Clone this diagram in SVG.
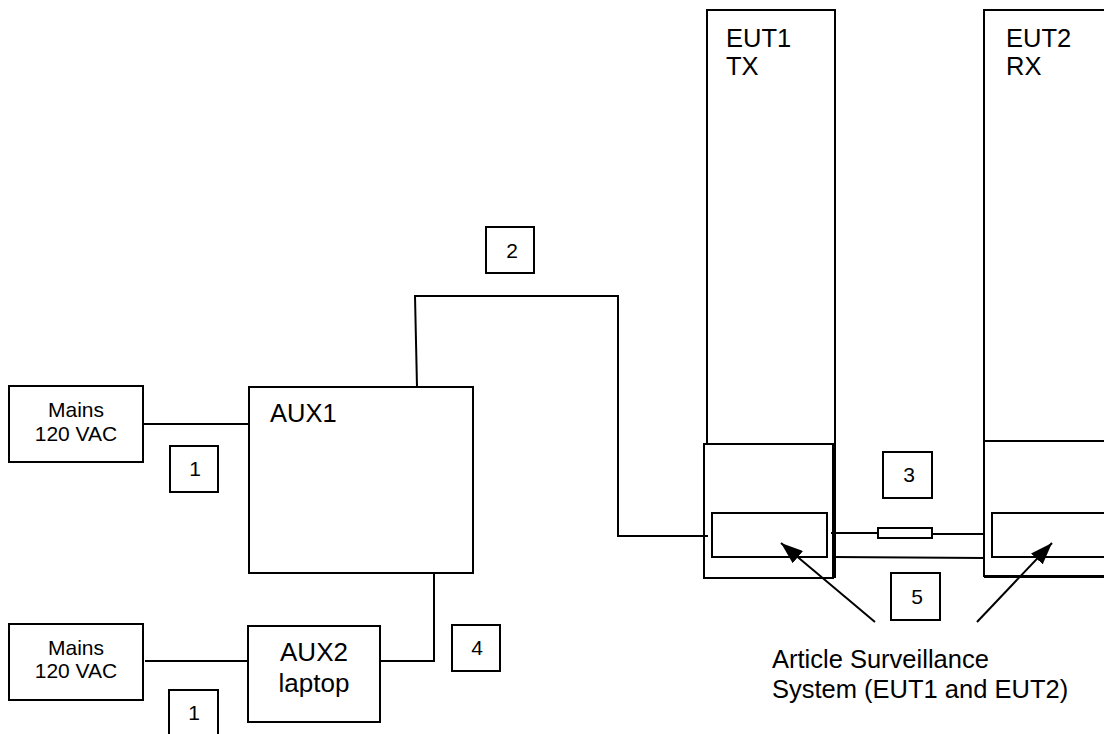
<svg xmlns="http://www.w3.org/2000/svg" width="1104" height="734" viewBox="0 0 1104 734">
<style>
.box{fill:#fff;stroke:#000;stroke-width:2}
.ln{fill:none;stroke:#000;stroke-width:2}
.t{font-family:"Liberation Sans",Arial,sans-serif;fill:#000}
.n{font-family:"Liberation Sans",Arial,sans-serif;font-size:21px;fill:#000;text-anchor:middle}
</style>
<defs>
<marker id="ah" markerWidth="10" markerHeight="10" refX="9" refY="5" orient="auto" markerUnits="userSpaceOnUse" viewBox="0 0 10 10">
<path d="M0,0 L10,5 L0,10 z" fill="#000"/>
</marker>
<marker id="arr" markerWidth="22" markerHeight="16" refX="22" refY="8" orient="auto" markerUnits="userSpaceOnUse">
<path d="M0,0 L22,8 L0,16 z" fill="#000"/>
</marker>
</defs>
<rect width="1104" height="734" fill="#fff"/>

<g id="eut1">
<rect class="box" x="707" y="10" width="128" height="567"/>
<rect class="box" x="704" y="444" width="129" height="134"/>
<rect class="box" x="712" y="513" width="115" height="44"/>
<text class="t" font-size="25.5" x="726" y="47">EUT1</text>
<text class="t" font-size="25.5" x="726" y="75">TX</text>
</g>

<g id="eut2">
<rect class="box" x="984" y="10" width="140" height="566"/>
<rect class="box" x="984" y="441" width="140" height="135"/>
<line class="ln" x1="984" y1="577" x2="1104" y2="577"/>
<rect class="box" x="992" y="513" width="130" height="44"/>
<text class="t" font-size="25.5" x="1006" y="47">EUT2</text>
<text class="t" font-size="25.5" x="1006" y="75">RX</text>
</g>

<g id="mains1">
<rect class="box" x="9" y="386" width="134" height="76"/>
<text class="t" font-size="21" text-anchor="middle" x="76" y="417">Mains</text>
<text class="t" font-size="21" text-anchor="middle" x="76" y="441">120 VAC</text>
</g>

<g id="mains2">
<rect class="box" x="9" y="624" width="134" height="76"/>
<text class="t" font-size="21" text-anchor="middle" x="76" y="655">Mains</text>
<text class="t" font-size="21" text-anchor="middle" x="76" y="678">120 VAC</text>
</g>

<g id="aux1">
<rect class="box" x="249" y="387" width="224" height="186"/>
<text class="t" font-size="25.5" x="270" y="422">AUX1</text>
</g>

<g id="aux2">
<rect class="box" x="248" y="626" width="132" height="96"/>
<text class="t" font-size="26" text-anchor="middle" x="314" y="661">AUX2</text>
<text class="t" font-size="26" text-anchor="middle" x="314" y="692">laptop</text>
</g>

<g id="label1a"><rect class="box" x="170" y="446" width="48" height="46"/><text class="n" x="195" y="476">1</text></g>
<g id="label1b"><rect class="box" x="169" y="690" width="49" height="50"/><text class="n" x="194" y="720">1</text></g>
<g id="label2"><rect class="box" x="486" y="227" width="48" height="46"/><text class="n" x="512" y="258">2</text></g>
<g id="label3"><rect class="box" x="883" y="452" width="49" height="46"/><text class="n" x="909" y="482">3</text></g>
<g id="label4"><rect class="box" x="452" y="625" width="48" height="46"/><text class="n" x="477" y="655">4</text></g>
<g id="label5"><rect class="box" x="891" y="573" width="49" height="47"/><text class="n" x="917" y="604">5</text></g>

<g id="ass-label">
<text class="t" font-size="25.5" x="772" y="668">Article Surveillance</text>
<text class="t" font-size="25.5" x="772" y="698">System (EUT1 and EUT2)</text>
</g>

<g id="connectors">
<line class="ln" x1="143" y1="424" x2="249" y2="424"/>
<line class="ln" x1="145" y1="661" x2="248" y2="661"/>
<polyline class="ln" points="434,573 434,661 380,661"/>
<polyline class="ln" points="417,387 415,296 618,296 618,536 708,536"/>
<line class="ln" x1="831" y1="533" x2="878" y2="533"/>
<rect class="box" x="878" y="528" width="54" height="10"/>
<line class="ln" x1="932" y1="534" x2="984" y2="534"/>
<line class="ln" x1="834" y1="557" x2="984" y2="558"/>
<line class="ln" x1="875" y1="622" x2="781" y2="543" marker-end="url(#arr)"/>
<line class="ln" x1="977" y1="622" x2="1052" y2="543" marker-end="url(#arr)"/>
</g>
</svg>
